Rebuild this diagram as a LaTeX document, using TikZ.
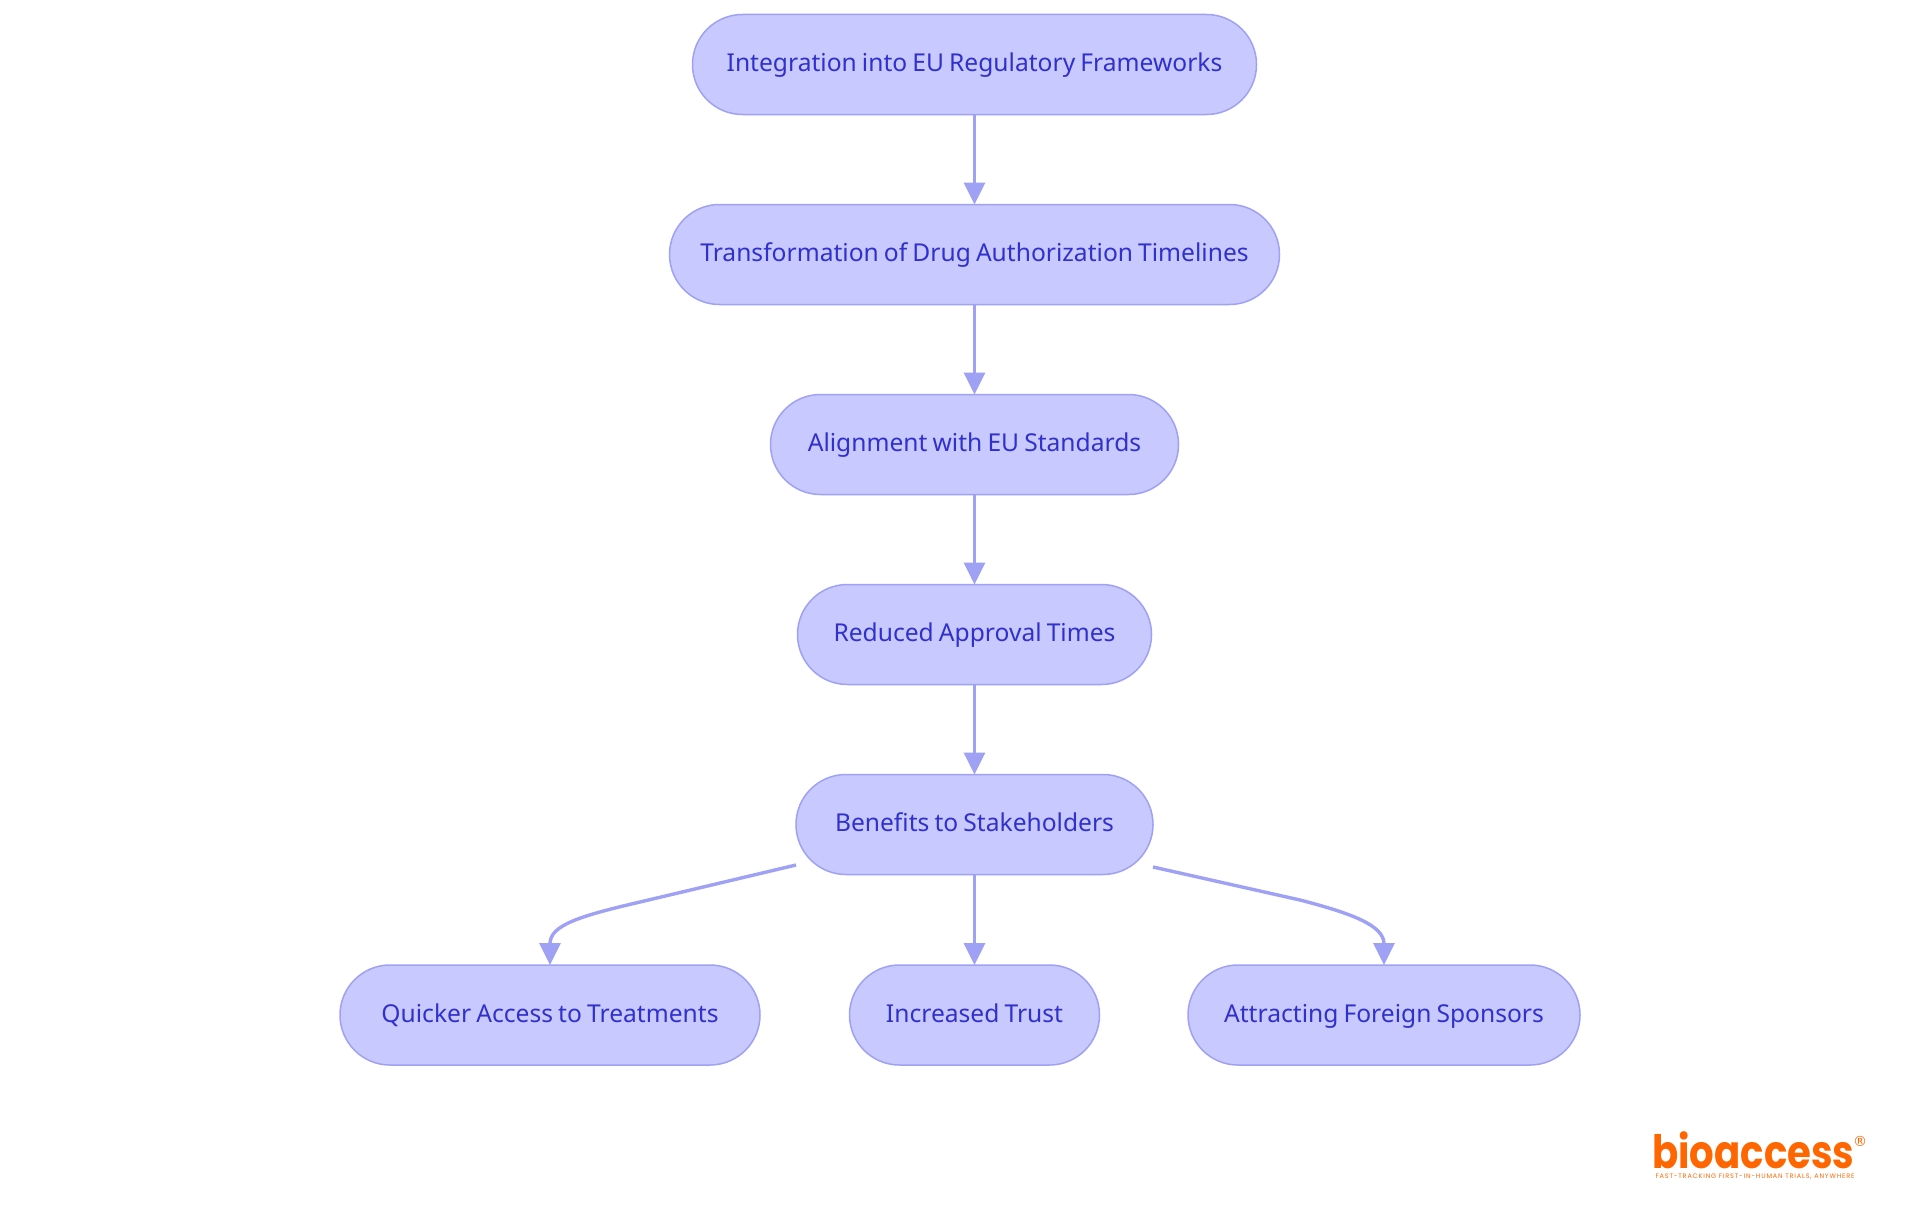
\documentclass[tikz,border=0pt]{standalone}
\usepackage{fontspec}
\setmainfont{Noto Sans}[WordSpace=0.8]
\newfontfamily\logofont{Poppins}[FakeStretch=0.84]
\newfontfamily\tagfont{Poppins}[LetterSpace=13]
\newfontfamily\markfont{DejaVu Sans}
\definecolor{stageFill}{RGB}{200,201,254}
\definecolor{stageLine}{RGB}{158,161,244}
\definecolor{stageText}{RGB}{48,48,204}
\definecolor{logoColor}{RGB}{255,102,0}
\usetikzlibrary{arrows.meta}
\tikzset{
  stage/.style={draw=stageLine,line width=1.5pt,fill=stageFill,text=stageText,rounded corners=50pt,
    minimum height=100pt,inner sep=0pt,outer sep=0pt,font=\fontsize{24.6}{30}\selectfont,text height=21pt,text depth=6.6pt},
  link/.style={draw=stageLine,line width=3.4pt,-{Triangle[length=22pt,width=21pt]}},
}
\begin{document}
\begin{tikzpicture}[x=1pt,y=-1pt]
\path[use as bounding box,fill=white] (0,0) rectangle (1920,1215);

\node[stage,minimum width=564pt] (integration) at (974.5,64.5) {Integration into EU Regulatory Frameworks};
\node[stage,minimum width=610pt] (transformation) at (974.5,254.5) {Transformation of Drug Authorization Timelines};
\node[stage,minimum width=408pt] (alignment) at (974.5,444.5) {Alignment with EU Standards};
\node[stage,minimum width=354pt] (reduced) at (974.5,634.5) {Reduced Approval Times};
\node[stage,minimum width=357pt] (benefits) at (974.5,824.5) {Benefits to Stakeholders};
\node[stage,minimum width=420pt] (access) at (550,1015) {Quicker Access to Treatments};
\node[stage,minimum width=250pt] (trust) at (974.5,1015) {Increased Trust};
\node[stage,minimum width=392pt] (sponsors) at (1384,1015) {Attracting Foreign Sponsors};

\draw[link] (integration) -- (transformation);
\draw[link] (transformation) -- (alignment);
\draw[link] (alignment) -- (reduced);
\draw[link] (reduced) -- (benefits);
\draw[link] (benefits) -- (trust);

\coordinate (benefitsLeft) at (796,865);
\coordinate (benefitsRight) at (1153,867);
\draw[link] (benefitsLeft) -- (640,902) .. controls (580,916) and (550,925) .. (access.north);
\draw[link] (benefitsRight) -- (1300,900) .. controls (1350,913) and (1384,925) .. (sponsors.north);

\node[text=logoColor,inner sep=0pt,anchor=base west,font=\logofont\bfseries\fontsize{46}{46}\selectfont] (logo) at (1652,1168) {bioaccess};
\node[text=logoColor,inner sep=0pt,anchor=center,font=\markfont\fontsize{14}{14}\selectfont] (logoMark) at (1860,1141) {®};
\node[text=logoColor,inner sep=0pt,anchor=center,font=\tagfont\fontsize{6.5}{7}\selectfont] (tagline) at (1755,1177) {FAST-TRACKING FIRST-IN-HUMAN TRIALS, ANYWHERE};
\end{tikzpicture}
\end{document}
